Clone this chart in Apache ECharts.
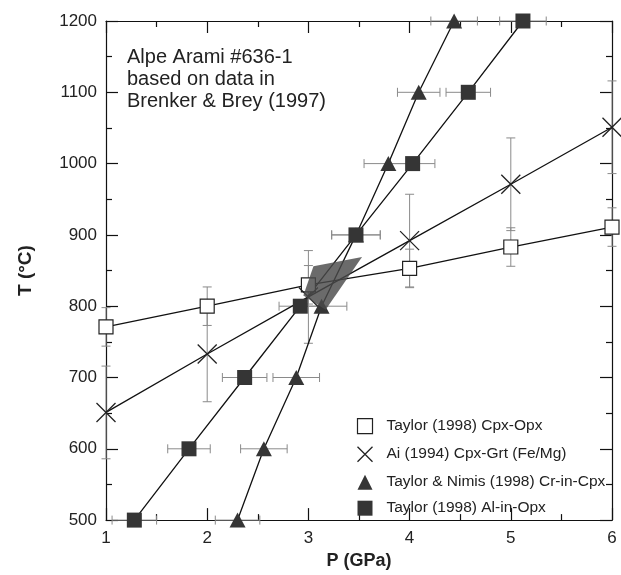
<!DOCTYPE html>
<html><head><meta charset="utf-8">
<script src="https://cdn.jsdelivr.net/npm/echarts@6/dist/echarts.min.js"></script>
<style>html,body{margin:0;padding:0;background:#fff}#c{width:621px;height:575px}</style>
</head><body><div id="c"></div>
<script>
// ---- data ----
const seriesNames = ['Taylor (1998) Cpx-Opx', 'Ai (1994) Cpx-Grt (Fe/Mg)', 'Taylor & Nimis (1998) Cr-in-Cpx', 'Taylor (1998) Al-in-Opx'];
const xTickValues = [1, 2, 3, 4, 5, 6];
const yTickValues = [500, 600, 700, 800, 900, 1000, 1100, 1200];

const cpxOpxP = [1, 2, 3, 4, 5, 6];
const cpxOpxT = [771, 800, 830, 853, 883, 911];
const cpxOpxErrT = [27, 27, 27, 27, 27, 27];

const aiP = [1, 2, 3, 4, 5, 6];
const aiT = [651, 733, 813, 892, 971, 1051];
const aiErrT = [65, 67, 65, 65, 65, 65];

const crT = [500, 600, 700, 800, 900, 1000, 1100, 1200];
const crP = [2.30, 2.56, 2.88, 3.13, 3.47, 3.79, 4.09, 4.44];
const crErrP = [0.22, 0.23, 0.23, 0.25, 0.24, 0.24, 0.21, 0.23];

const alT = [500, 600, 700, 800, 900, 1000, 1100, 1200];
const alP = [1.28, 1.82, 2.37, 2.92, 3.47, 4.03, 4.58, 5.12];
const alErrP = [0.22, 0.21, 0.22, 0.21, 0.24, 0.22, 0.22, 0.23];

const overlapP = [2.95, 3.05, 3.53, 3.17];
const overlapT = [815, 856, 869, 795];

const annotation = ['Alpe Arami #636-1', 'based on data in', 'Brenker & Brey (1997)'];

// ---- chart ----
const FONT = 'Liberation Sans, Arial, Helvetica, sans-serif';
const INK = '#111';
const ERR = '#8a8a8a';
const chart = echarts.init(document.getElementById('c'), null, {renderer: 'canvas'});

function pairs(xs, ys, es) { return xs.map((x, i) => es ? [x, ys[i], es[i]] : [x, ys[i]]); }

const CAP = 4.5;
function vErr(params, api) {
  const x = api.value(0), y = api.value(1), e = api.value(2);
  const a = api.coord([x, y + e]), b = api.coord([x, y - e]);
  const st = {stroke: ERR, lineWidth: 1};
  return {type: 'group', children: [
    {type: 'line', shape: {x1: a[0], y1: a[1], x2: b[0], y2: b[1]}, style: st},
    {type: 'line', shape: {x1: a[0] - CAP, y1: a[1], x2: a[0] + CAP, y2: a[1]}, style: st},
    {type: 'line', shape: {x1: b[0] - CAP, y1: b[1], x2: b[0] + CAP, y2: b[1]}, style: st}
  ]};
}
function hErr(params, api) {
  const x = api.value(0), y = api.value(1), e = api.value(2);
  const a = api.coord([x - e, y]), b = api.coord([x + e, y]);
  const st = {stroke: ERR, lineWidth: 1};
  return {type: 'group', children: [
    {type: 'line', shape: {x1: a[0], y1: a[1], x2: b[0], y2: b[1]}, style: st},
    {type: 'line', shape: {x1: a[0], y1: a[1] - CAP, x2: a[0], y2: a[1] + CAP}, style: st},
    {type: 'line', shape: {x1: b[0], y1: b[1] - CAP, x2: b[0], y2: b[1] + CAP}, style: st}
  ]};
}

const axisCommon = {
  type: 'value',
  axisLine: {show: true, onZero: false, lineStyle: {color: INK, width: 1.2}},
  axisTick: {show: true, inside: true, length: 12, lineStyle: {color: INK, width: 1.2}},
  minorTick: {show: true, splitNumber: 2, length: 6, lineStyle: {color: INK, width: 1.2}},
  splitLine: {show: false}
};
const labelStyle = {fontSize: 17, fontFamily: FONT, color: '#222', formatter: v => String(v)};

const XPATH = 'path://M0,0L10,10M10,0L0,10';

chart.setOption({
  animation: false,
  backgroundColor: '#fff',
  title: {
    text: annotation.join('\n'), left: 127, top: 46, padding: 0,
    textStyle: {fontSize: 20, fontWeight: 'normal', fontFamily: FONT, color: '#222', lineHeight: 22}
  },
  grid: {left: 106, right: 9, top: 21, bottom: 49},
  xAxis: [
    Object.assign({}, axisCommon, {
      min: xTickValues[0], max: xTickValues[xTickValues.length - 1], interval: 1, position: 'bottom',
      axisLabel: Object.assign({margin: 10}, labelStyle),
      name: 'P (GPa)', nameLocation: 'middle', nameGap: 28,
      nameTextStyle: {fontSize: 18, fontWeight: 'bold', fontFamily: FONT, color: '#222'}
    }),
    Object.assign({}, axisCommon, {
      min: xTickValues[0], max: xTickValues[xTickValues.length - 1], interval: 1, position: 'top',
      axisLabel: {show: false}
    })
  ],
  yAxis: [
    Object.assign({}, axisCommon, {
      min: yTickValues[0], max: yTickValues[yTickValues.length - 1], interval: 100, position: 'left',
      axisLabel: Object.assign({margin: 9}, labelStyle),
      name: 'T (°C)', nameLocation: 'middle', nameGap: 71, nameRotate: 90,
      nameTextStyle: {fontSize: 19, fontWeight: 'bold', fontFamily: FONT, color: '#222'}
    }),
    Object.assign({}, axisCommon, {
      min: yTickValues[0], max: yTickValues[yTickValues.length - 1], interval: 100, position: 'right',
      axisLabel: {show: false}
    })
  ],
  legend: {
    orient: 'vertical', left: 355, top: 418, padding: 0,
    itemWidth: 15, itemHeight: 15, itemGap: 10, selectedMode: false,
    textStyle: {fontSize: 15.5, fontFamily: FONT, color: '#222', lineHeight: 15, padding: [0, 0, 0, 9]},
    data: [
      {name: seriesNames[0], icon: 'rect', itemStyle: {color: '#fff', borderColor: '#222', borderWidth: 1.2}},
      {name: seriesNames[1], icon: XPATH, itemStyle: {color: 'none', borderColor: '#222', borderWidth: 1.3}},
      {name: seriesNames[2], icon: 'triangle', itemStyle: {color: '#353535', borderWidth: 0}},
      {name: seriesNames[3], icon: 'rect', itemStyle: {color: '#353535', borderWidth: 0}}
    ]
  },
  series: [
    {type: 'custom', name: 'errT1', renderItem: vErr, data: pairs(cpxOpxP, cpxOpxT, cpxOpxErrT), encode: {x: 0, y: 1}, silent: true, z: 1},
    {type: 'custom', name: 'errT2', renderItem: vErr, data: pairs(aiP, aiT, aiErrT), encode: {x: 0, y: 1}, silent: true, z: 1},
    {type: 'custom', name: 'errP3', renderItem: hErr, data: pairs(crP, crT, crErrP), encode: {x: 0, y: 1}, silent: true, z: 1},
    {type: 'custom', name: 'errP4', renderItem: hErr, data: pairs(alP, alT, alErrP), encode: {x: 0, y: 1}, silent: true, z: 1},
    {type: 'line', name: seriesNames[0], data: pairs(cpxOpxP, cpxOpxT), symbol: 'rect', symbolSize: 14,
      clip: false, lineStyle: {color: INK, width: 1.3}, itemStyle: {color: '#fff', borderColor: '#222', borderWidth: 1.2},
      emphasis: {disabled: true}, z: 2},
    {type: 'line', name: seriesNames[1], data: pairs(aiP, aiT), symbol: XPATH, symbolSize: 19,
      clip: false, lineStyle: {color: INK, width: 1.3}, itemStyle: {color: 'none', borderColor: '#222', borderWidth: 1.3},
      emphasis: {disabled: true}, z: 2},
    {type: 'line', name: seriesNames[2], data: pairs(crP, crT), symbol: 'triangle', symbolSize: [16, 15],
      clip: false, lineStyle: {color: INK, width: 1.3}, itemStyle: {color: '#353535', borderWidth: 0},
      emphasis: {disabled: true}, z: 2},
    {type: 'line', name: seriesNames[3], data: pairs(alP, alT), symbol: 'rect', symbolSize: 15,
      clip: false, lineStyle: {color: INK, width: 1.3}, itemStyle: {color: '#353535', borderWidth: 0},
      emphasis: {disabled: true}, z: 2},
    {type: 'custom', name: 'overlap', silent: true, z: 3,
      renderItem: function (params, api) {
        const pts = overlapP.map((p, i) => api.coord([p, overlapT[i]]));
        return {type: 'polygon', shape: {points: pts}, style: {fill: '#4a4a4a', opacity: 0.82}};
      },
      data: [[overlapP[0], overlapT[0]]], encode: {x: 0, y: 1}}
  ]
});
</script>
</body></html>
